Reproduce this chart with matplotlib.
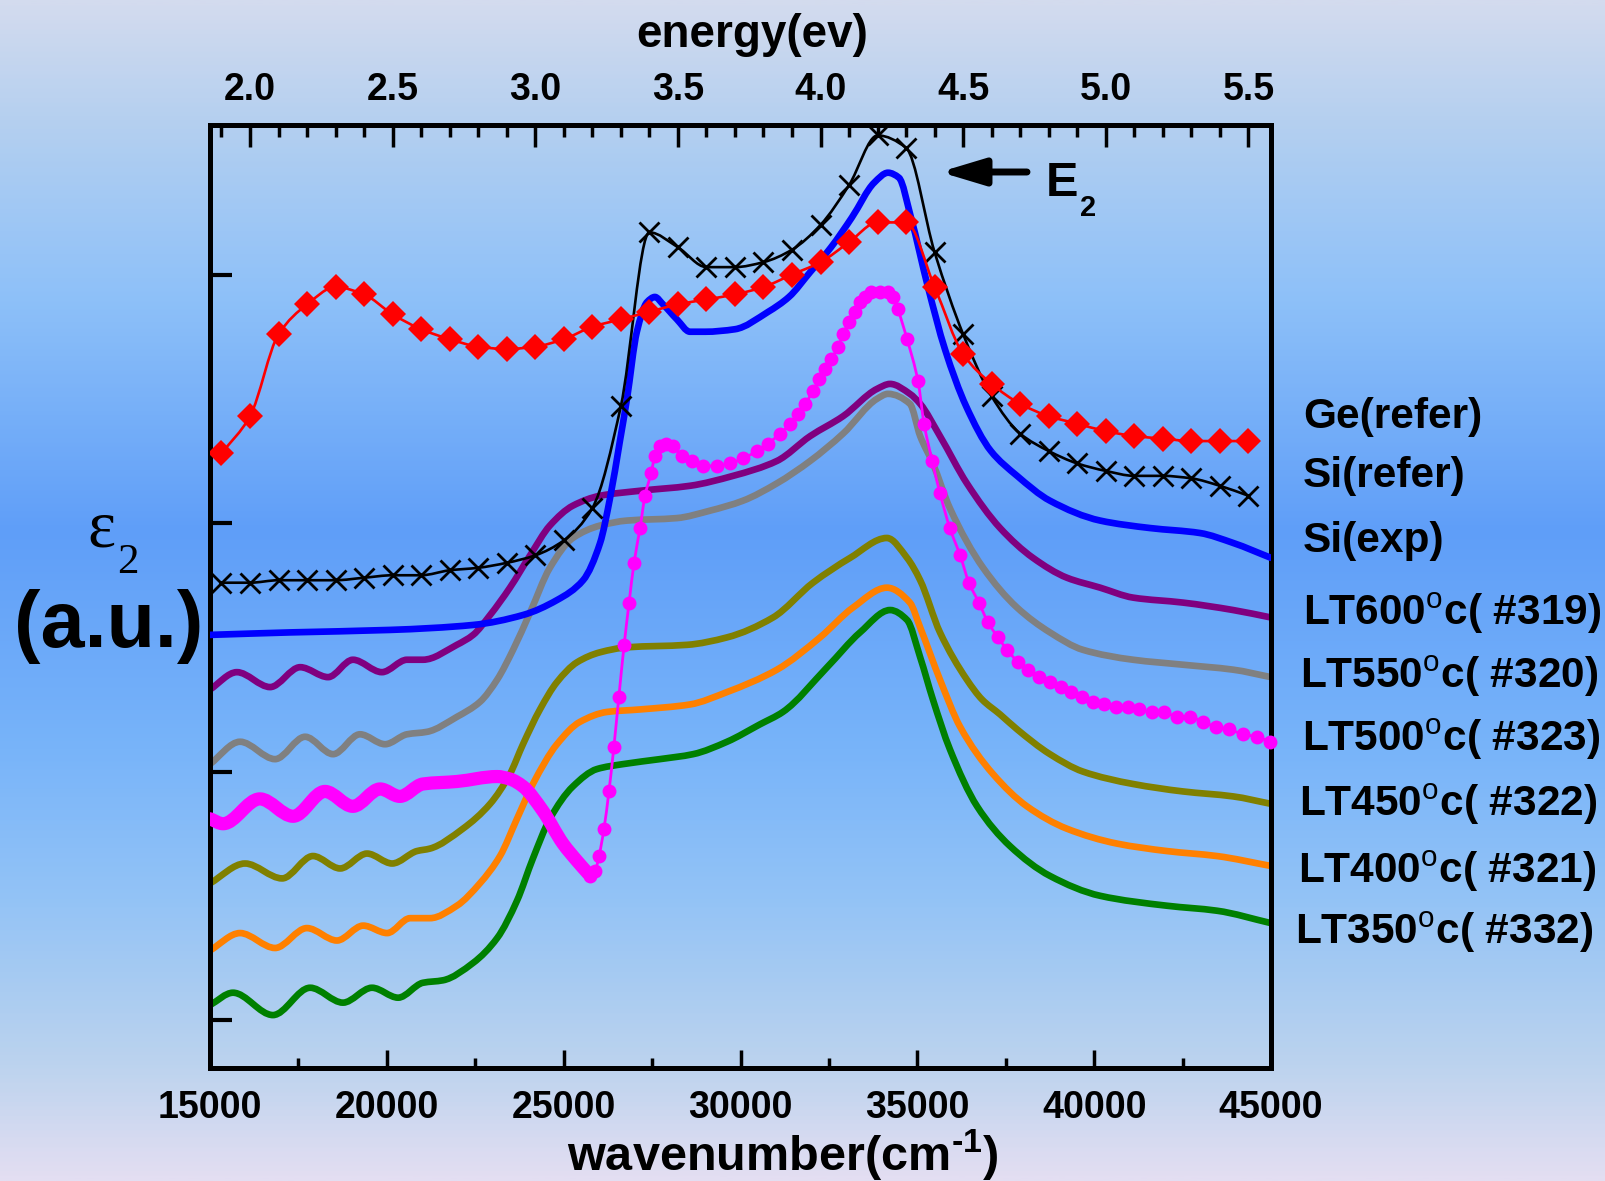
import numpy as np
import matplotlib
matplotlib.use('Agg')
import matplotlib.pyplot as plt
from matplotlib.colors import LinearSegmentedColormap
from matplotlib.ticker import MultipleLocator, FixedLocator, FormatStrFormatter
from matplotlib.path import Path
from matplotlib.patches import PathPatch

plt.rcParams['font.family'] = ['Liberation Sans', 'DejaVu Sans']
plt.rcParams['font.weight'] = 'bold'
plt.rcParams['mathtext.fontset'] = 'custom'
plt.rcParams['mathtext.rm'] = 'Liberation Sans:bold'
plt.rcParams['mathtext.it'] = 'Liberation Sans:bold'
plt.rcParams['mathtext.bf'] = 'Liberation Sans:bold'
plt.rcParams['mathtext.sf'] = 'Liberation Sans:normal'

EV_PER_CM = 1.23984e-4  # eV per cm^-1

# ---- data (eps2 in arbitrary units, curves offset as in the figure) ----
ref_ev = [1.9, 2.0, 2.1, 2.2, 2.3, 2.4, 2.5, 2.6, 2.7, 2.8, 2.9, 3.0, 3.1,
          3.2, 3.3, 3.4, 3.5, 3.6, 3.7, 3.8, 3.9, 4.0, 4.1, 4.2, 4.3, 4.4,
          4.5, 4.6, 4.7, 4.8, 4.9, 5.0, 5.1, 5.2, 5.3, 5.4, 5.5]
ge_ref = [2.28, 2.43, 2.76, 2.88, 2.95, 2.92, 2.84, 2.78, 2.74, 2.71, 2.70,
          2.71, 2.74, 2.79, 2.82, 2.85, 2.88, 2.90, 2.92, 2.95, 3.00, 3.05,
          3.13, 3.21, 3.21, 2.95, 2.68, 2.56, 2.48, 2.43, 2.40, 2.37, 2.35,
          2.34, 2.33, 2.33, 2.33]
si_ref = [1.76, 1.76, 1.77, 1.77, 1.77, 1.78, 1.79, 1.79, 1.81, 1.82, 1.84,
          1.87, 1.93, 2.06, 2.47, 3.17, 3.11, 3.03, 3.03, 3.05, 3.10, 3.20,
          3.36, 3.56, 3.51, 3.09, 2.76, 2.51, 2.36, 2.29, 2.24, 2.21, 2.19,
          2.19, 2.18, 2.15, 2.11]

si_exp_wn = [15000, 17260, 20090, 22440, 23850, 24810, 25550, 26030, 26310,
             26590, 26790, 27070, 27360, 27580, 27810, 28200, 28570, 29000,
             29840, 30780, 31370, 31970, 32560, 33150, 33780, 34170, 34480,
             34820, 35300, 35780, 36380, 37080, 37820, 38750, 40170, 41580,
             42990, 43930, 45000]
si_exp = [1.55, 1.56, 1.57, 1.59, 1.63, 1.69, 1.77, 1.92, 2.10, 2.33, 2.50,
          2.77, 2.89, 2.91, 2.88, 2.82, 2.77, 2.77, 2.78, 2.85, 2.91, 3.01,
          3.11, 3.23, 3.37, 3.41, 3.39, 3.23, 2.95, 2.70, 2.47, 2.29, 2.19,
          2.09, 2.01, 1.98, 1.96, 1.92, 1.86]

lt600_wn = [15000, 15760, 16700, 17550, 18340, 19040, 19860, 20570, 21020,
            21980, 22440, 22920, 23480, 24050, 24610, 25260, 26030, 27160,
            28570, 29790, 31030, 31970, 32900, 33860, 34230, 34790, 35080,
            35640, 36400, 37340, 38270, 39230, 40170, 41100, 42510, 43930,
            45000]
lt600 = [1.33, 1.40, 1.34, 1.42, 1.38, 1.45, 1.40, 1.45, 1.45, 1.51, 1.55,
         1.63, 1.74, 1.87, 1.99, 2.07, 2.11, 2.13, 2.15, 2.19, 2.25, 2.35,
         2.43, 2.54, 2.56, 2.52, 2.48, 2.35, 2.16, 1.98, 1.86, 1.78, 1.74,
         1.70, 1.68, 1.65, 1.62]

lt550_wn = [15000, 15850, 16840, 17690, 18480, 19240, 19950, 20570, 21140,
            21980, 22630, 23120, 23570, 24050, 24610, 25260, 26030, 26790,
            28200, 29140, 30070, 31030, 31970, 32900, 33860, 34170, 34790,
            35080, 35440, 35920, 36860, 37820, 38750, 39680, 41100, 42510,
            43930, 45000]
lt550 = [1.03, 1.12, 1.05, 1.14, 1.07, 1.15, 1.11, 1.15, 1.16, 1.22, 1.28,
         1.37, 1.49, 1.64, 1.82, 1.94, 1.99, 2.01, 2.02, 2.05, 2.09, 2.16,
         2.25, 2.36, 2.50, 2.52, 2.48, 2.35, 2.24, 2.06, 1.82, 1.66, 1.56,
         1.49, 1.45, 1.43, 1.41, 1.38]

# LT500: dense low-energy part and the separated points above it
lt500_wn_a = [15000, 15370, 16410, 17350, 18250, 19040, 19810, 20370, 21020,
              21980, 23120, 23480, 23850, 24420, 24980, 25380, 25690]
lt500_a = [0.81, 0.79, 0.89, 0.82, 0.92, 0.86, 0.93, 0.90, 0.95, 0.96, 0.98,
           0.97, 0.94, 0.84, 0.71, 0.64, 0.59]
lt500_wn_b = [25750, 25890, 26000, 26140, 26280, 26420, 26560, 26710, 26850,
              26990, 27160, 27300, 27470, 27580, 27720, 27890, 28090, 28350,
              28630, 28940, 29340, 29700, 30070, 30470, 30780, 31120, 31400,
              31630, 31820, 32050, 32220, 32390, 32560, 32760, 32900, 33070,
              33240, 33380, 33520, 33690, 33940, 34170, 34310, 34450, 34710,
              35020, 35190, 35420, 35640, 35920, 36210, 36460, 36740, 37000,
              37280, 37540, 37850, 38130, 38440, 38750, 39060, 39350, 39660,
              39970, 40280, 40620, 40960, 41270, 41640, 41970, 42340, 42710,
              43080, 43450, 43810, 44210, 44600, 44970]
lt500_b = [0.58, 0.60, 0.66, 0.77, 0.92, 1.10, 1.30, 1.51, 1.68, 1.84, 1.98,
           2.11, 2.20, 2.27, 2.31, 2.32, 2.31, 2.27, 2.25, 2.23, 2.23, 2.24,
           2.26, 2.29, 2.32, 2.36, 2.40, 2.44, 2.48, 2.53, 2.58, 2.62, 2.66,
           2.71, 2.76, 2.81, 2.85, 2.89, 2.91, 2.93, 2.93, 2.93, 2.91, 2.86,
           2.74, 2.57, 2.40, 2.25, 2.12, 1.98, 1.87, 1.76, 1.68, 1.60, 1.54,
           1.49, 1.44, 1.41, 1.38, 1.36, 1.34, 1.32, 1.30, 1.28, 1.27, 1.26,
           1.26, 1.25, 1.24, 1.24, 1.22, 1.22, 1.20, 1.18, 1.17, 1.15, 1.14,
           1.12]

lt450_wn = [15000, 15990, 17040, 17910, 18680, 19440, 20150, 20850, 21220,
            22150, 22920, 23480, 23850, 24330, 24810, 25380, 26030, 26790,
            28490, 29620, 30920, 32050, 33100, 34140, 34710, 35080, 35640,
            36400, 36830, 37340, 37820, 38750, 39680, 41100, 42510, 43930,
            45000]
lt450 = [0.55, 0.63, 0.57, 0.66, 0.61, 0.67, 0.63, 0.68, 0.69, 0.77, 0.87,
         0.99, 1.11, 1.25, 1.36, 1.44, 1.48, 1.50, 1.51, 1.54, 1.62, 1.76,
         1.86, 1.94, 1.86, 1.77, 1.56, 1.37, 1.29, 1.23, 1.17, 1.07, 1.00,
         0.95, 0.92, 0.90, 0.87]

lt400_wn = [15000, 15850, 16840, 17740, 18590, 19330, 20010, 20660, 21220,
            21980, 22630, 23200, 23680, 24130, 24810, 25460, 26230, 27160,
            28570, 29620, 31030, 32250, 33180, 34140, 34790, 35080, 35640,
            36210, 37140, 38100, 39230, 40650, 42060, 43470, 45000]
lt400 = [0.28, 0.35, 0.29, 0.37, 0.32, 0.38, 0.35, 0.41, 0.41, 0.46, 0.55,
         0.66, 0.81, 0.95, 1.11, 1.20, 1.24, 1.25, 1.27, 1.32, 1.41, 1.54,
         1.66, 1.74, 1.68, 1.58, 1.37, 1.18, 0.99, 0.86, 0.77, 0.71, 0.68,
         0.66, 0.62]

lt350_wn = [15000, 15650, 16780, 17830, 18760, 19580, 20320, 21020, 21590,
            22440, 23120, 23680, 24130, 24610, 25260, 25940, 26680, 27720,
            28660, 29620, 30550, 31200, 32450, 33380, 34230, 34710, 35080,
            35440, 35920, 36690, 37620, 38750, 40170, 42060, 43470, 45000]
lt350 = [0.06, 0.11, 0.02, 0.13, 0.07, 0.13, 0.09, 0.15, 0.16, 0.23, 0.33,
         0.48, 0.65, 0.81, 0.94, 1.01, 1.03, 1.05, 1.07, 1.12, 1.19, 1.24,
         1.42, 1.56, 1.65, 1.61, 1.46, 1.29, 1.09, 0.86, 0.70, 0.58, 0.50,
         0.46, 0.44, 0.39]

labels = ['Ge(refer)', 'Si(refer)', 'Si(exp)',
          r'LT600$^{\mathsf{o}}$c( #319)', r'LT550$^{\mathsf{o}}$c( #320)',
          r'LT500$^{\mathsf{o}}$c( #323)', r'LT450$^{\mathsf{o}}$c( #322)',
          r'LT400$^{\mathsf{o}}$c( #321)', r'LT350$^{\mathsf{o}}$c( #332)']
# label anchor (left x, centre y) in figure pixels
label_pos = [(1303, 417), (1303, 476), (1303, 541), (1303, 613), (1300, 676),
             (1302, 739), (1299, 804), (1298, 871), (1295, 932)]


def spline_path(x, y):
    # smooth "spline connect" line through the points (monotone cubic)
    x = np.asarray(x, float)
    y = np.asarray(y, float)
    h = np.diff(x)
    d = np.diff(y) / h
    m = np.zeros_like(y)
    m[0], m[-1] = d[0], d[-1]
    for i in range(1, len(x) - 1):
        if d[i - 1] * d[i] > 0:
            w1 = 2 * h[i] + h[i - 1]
            w2 = h[i] + 2 * h[i - 1]
            m[i] = (w1 + w2) / (w1 / d[i - 1] + w2 / d[i])
    verts = [(x[0], y[0])]
    codes = [Path.MOVETO]
    for i in range(len(x) - 1):
        verts += [(x[i] + h[i] / 3, y[i] + m[i] * h[i] / 3),
                  (x[i + 1] - h[i] / 3, y[i + 1] - m[i + 1] * h[i] / 3),
                  (x[i + 1], y[i + 1])]
        codes += [Path.CURVE4] * 3
    return Path(verts, codes)


def spline_line(ax, x, y, color, lw, zorder=2):
    patch = PathPatch(spline_path(x, y), fill=False, edgecolor=color, lw=lw,
                      capstyle='round', joinstyle='round', zorder=zorder)
    ax.add_patch(patch)


W, H = 1605, 1181
fig = plt.figure(figsize=(W / 100, H / 100), dpi=100)

# background gradient
bg = fig.add_axes([0, 0, 1, 1], zorder=-10)
stops = [0.0, 0.106, 0.254, 0.449, 0.635, 0.762, 0.904, 1.0]
cols = ['#d3dbee', '#b3cff0', '#8dc0f9', '#5f9ef8', '#78b4fa', '#93c3f6',
        '#bcd3ee', '#e3def2']
cmap = LinearSegmentedColormap.from_list('bg', list(zip(stops, cols)))
bg.imshow(np.linspace(0, 1, 600).reshape(-1, 1), cmap=cmap, aspect='auto',
          extent=[0, 1, 0, 1], origin='upper')
bg.axis('off')

ax = fig.add_axes([210 / W, 1 - 1068 / H, 1061 / W, 943 / H])
ax.set_facecolor('none')
ax.set_xlim(15000, 45000)
ax.set_ylim(-0.193, 3.602)
for s in ax.spines.values():
    s.set_linewidth(3.6)

ax.xaxis.set_major_locator(MultipleLocator(5000))
ax.xaxis.set_minor_locator(MultipleLocator(2500))
ax.tick_params(axis='x', which='major', direction='in', length=13, width=2.5,
               labelsize=27, pad=16, top=False)
ax.tick_params(axis='x', which='minor', direction='in', length=7, width=2.5,
               top=False)
ax.yaxis.set_major_locator(FixedLocator([0, 1, 2, 3]))
ax.tick_params(axis='y', which='major', direction='in', length=16, width=3,
               labelleft=False, right=False)


def wn_to_ev(w):
    return np.asarray(w) * EV_PER_CM


def ev_to_wn(e):
    return np.asarray(e) / EV_PER_CM


sec = ax.secondary_xaxis('top', functions=(wn_to_ev, ev_to_wn))
sec.xaxis.set_major_locator(MultipleLocator(0.5))
sec.xaxis.set_minor_locator(MultipleLocator(0.1))
sec.xaxis.set_major_formatter(FormatStrFormatter('%.1f'))
sec.tick_params(which='major', direction='in', length=16, width=2.5,
                labelsize=27, pad=12)
sec.tick_params(which='minor', direction='in', length=8.5, width=2.5)
sec.spines['top'].set_linewidth(3.6)

# curves
lw = 4.8
spline_line(ax, lt350_wn, lt350, '#008000', lw)
spline_line(ax, lt400_wn, lt400, '#ff8000', lw)
spline_line(ax, lt450_wn, lt450, '#808000', lw)
spline_line(ax, lt550_wn, lt550, '#808080', lw)
spline_line(ax, lt600_wn, lt600, '#800080', lw)
spline_line(ax, lt500_wn_a + lt500_wn_b, lt500_a + lt500_b, '#ff00ff', 2,
            zorder=3)
spline_line(ax, lt500_wn_a, lt500_a, '#ff00ff', 9.5, zorder=3)
ax.plot(lt500_wn_b, lt500_b, 'o', color='#ff00ff', ms=10, mew=0,
        clip_on=False, zorder=3)
spline_line(ax, si_exp_wn, si_exp, '#0000ff', lw, zorder=3)
ref_wn = ev_to_wn(ref_ev)
spline_line(ax, ref_wn, si_ref, 'black', 1.9, zorder=4)
ax.plot(ref_wn, si_ref, 'x', color='black', ms=15, mew=2, zorder=4)
spline_line(ax, ref_wn, ge_ref, '#ff0000', 1.9, zorder=4)
ax.plot(ref_wn, ge_ref, 'D', color='#ff0000', ms=13, mew=0, zorder=4)

# annotations
for txt, (px, py) in zip(labels, label_pos):
    fig.text(px / W, 1 - py / H, txt, fontsize=30.5, ha='left', va='center')

fig.text(752 / W, 1 - 35 / H, 'energy(ev)', fontsize=33, ha='center',
         va='center')
fig.text(783 / W, 1 - 1155 / H, 'wavenumber(cm$^{\\rm \u2010 1}$)',
         fontsize=35, ha='center', va='center')
fig.text(101 / W, 1 - 530 / H, 'ε', family='Liberation Serif',
         weight='normal', fontsize=48, ha='center', va='center')
fig.text(128 / W, 1 - 563 / H, '2', family='Liberation Serif',
         weight='normal', fontsize=31, ha='center', va='center')
fig.text(109 / W, 1 - 627 / H, '(a.u.)', fontsize=57, ha='center',
         va='center')

fig.text(1062 / W, 1 - 183 / H, 'E', fontsize=35, ha='center', va='center')
fig.text(1088 / W, 1 - 208 / H, '2', fontsize=21, ha='center', va='center')
ax.annotate('', xy=(940 / W, 1 - 172 / H), xytext=(1027 / W, 1 - 172 / H),
            xycoords='figure fraction', textcoords='figure fraction',
            arrowprops=dict(arrowstyle='-|>,head_length=1.33,head_width=0.4',
                            mutation_scale=20, lw=5, color='black',
                            shrinkA=0, shrinkB=0))

fig.savefig('out.png', dpi=100)
